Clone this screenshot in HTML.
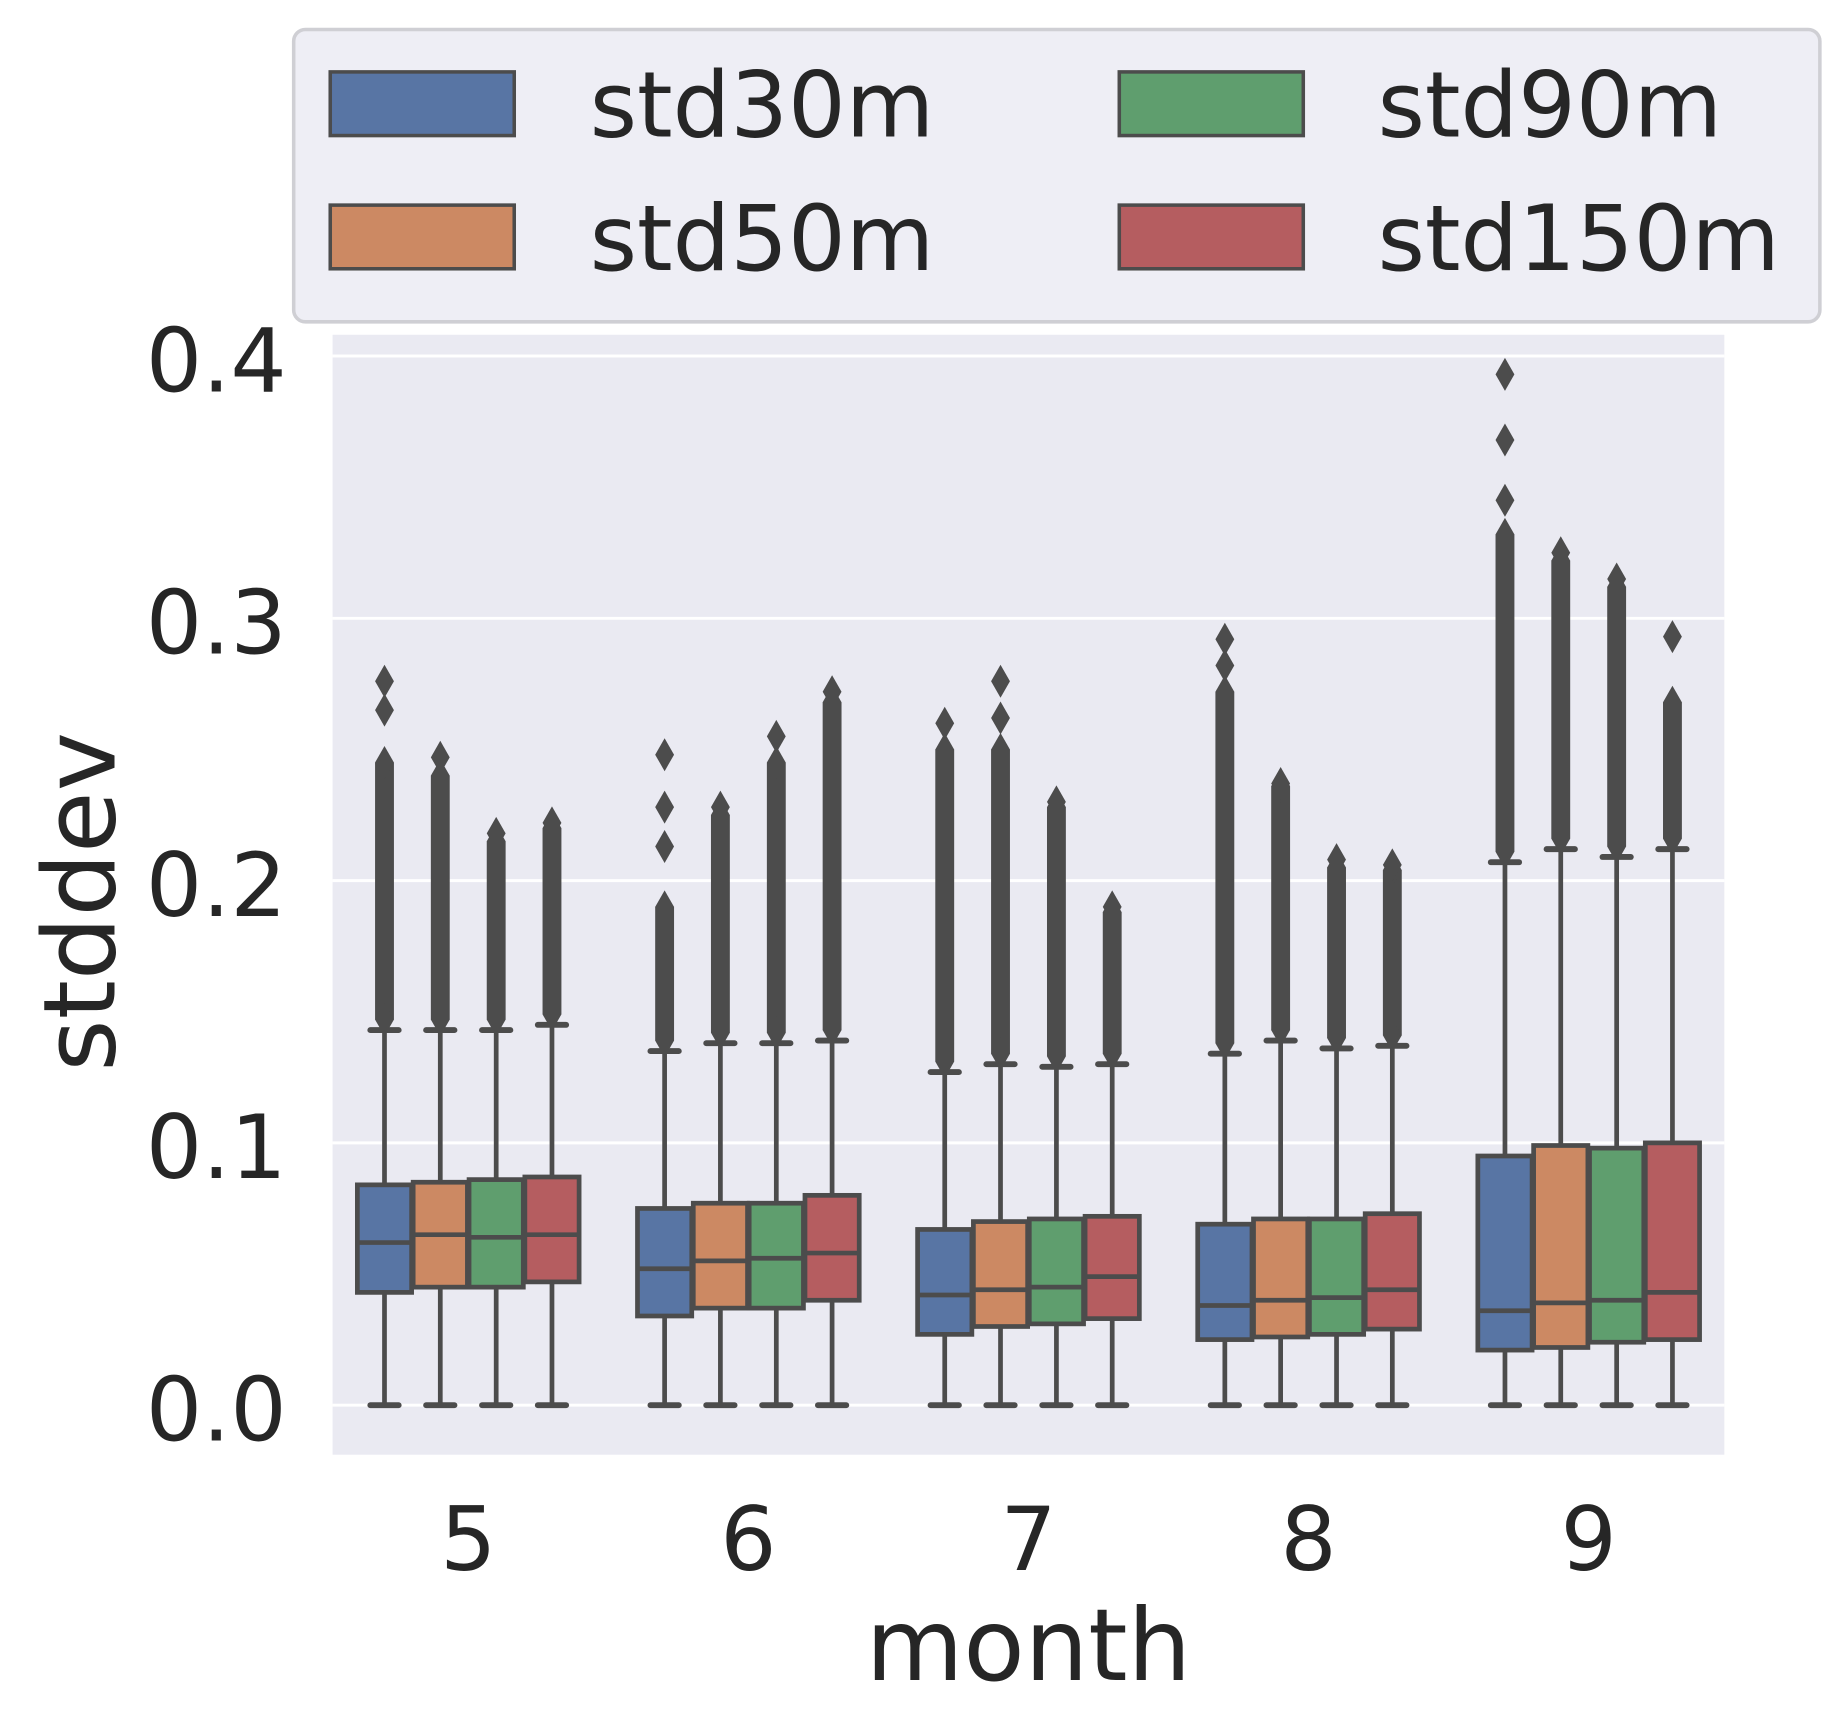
<!DOCTYPE html>
<html><head><meta charset="utf-8"><style>
html,body{margin:0;padding:0;background:#fff;}
svg{display:block;font-family:"DejaVu Sans","Liberation Sans",sans-serif;}
</style></head><body>
<svg id="chart" width="1847" height="1727" viewBox="0 0 1566 1465" preserveAspectRatio="none" xmlns="http://www.w3.org/2000/svg">
<rect x="282" y="284" width="1180" height="950" fill="#eaeaf2"/>
<g id="grid"></g>
<g id="marks"></g>
<g id="yticks" fill="#262626" font-size="75" text-anchor="end"></g>
<g id="xticks" fill="#262626" font-size="75" text-anchor="middle"></g>
<text x="872" y="1425" font-size="85" fill="#262626" text-anchor="middle">month</text>
<text x="0" y="0" font-size="85" fill="#262626" text-anchor="middle" transform="translate(97,765) rotate(-90)">stddev</text>
<g>
<rect x="249" y="25" width="1294" height="248" rx="10" fill="#eaeaf2" fill-opacity="0.8" stroke="#cfcfd4" stroke-width="3"/>
<rect x="280" y="61" width="156" height="54" fill="#5875a4" stroke="#4c4c4c" stroke-width="3"/>
<text x="500" y="116" font-size="77" fill="#262626">std30m</text>
<rect x="280" y="174" width="156" height="54" fill="#cc8963" stroke="#4c4c4c" stroke-width="3"/>
<text x="500" y="229" font-size="77" fill="#262626">std50m</text>
<rect x="949" y="61" width="156" height="54" fill="#5f9e6e" stroke="#4c4c4c" stroke-width="3"/>
<text x="1168" y="116" font-size="77" fill="#262626">std90m</text>
<rect x="949" y="174" width="156" height="54" fill="#b55d60" stroke="#4c4c4c" stroke-width="3"/>
<text x="1168" y="229" font-size="77" fill="#262626">std150m</text>
</g>
</svg>
<script>
const months = ['5','6','7','8','9'];
const series = ['std30m','std50m','std90m','std150m'];
const colors = ['#5875a4','#cc8963','#5f9e6e','#b55d60'];
const yTicks = [0.0,0.1,0.2,0.3,0.4];
const yTickLabels = ['0.0','0.1','0.2','0.3','0.4'];
// per month, per series
const q1 = [[0.043,0.045,0.045,0.047],[0.034,0.037,0.037,0.040],[0.027,0.030,0.031,0.033],[0.025,0.026,0.027,0.029],[0.021,0.022,0.024,0.025]];
const med = [[0.062,0.065,0.064,0.065],[0.052,0.055,0.056,0.058],[0.042,0.044,0.045,0.049],[0.038,0.040,0.041,0.044],[0.036,0.039,0.040,0.043]];
const q3 = [[0.084,0.085,0.086,0.087],[0.075,0.077,0.077,0.080],[0.067,0.070,0.071,0.072],[0.069,0.071,0.071,0.073],[0.095,0.099,0.098,0.100]];
const whiskLo = [[0,0,0,0],[0,0,0,0],[0,0,0,0],[0,0,0,0],[0,0,0,0]];
const whiskHi = [[0.143,0.143,0.143,0.145],[0.135,0.138,0.138,0.139],[0.127,0.130,0.129,0.130],[0.134,0.139,0.136,0.137],[0.207,0.212,0.209,0.212]];
const denseTop = [[0.245,0.240,0.215,0.220],[0.190,0.225,0.245,0.268],[0.250,0.250,0.228,0.188],[0.272,0.236,0.205,0.204],[0.332,0.322,0.312,0.268]];
const outliers = [[[0.265,0.276],[0.247],[0.218],[0.222]],[[0.213,0.228,0.248],[0.228],[0.255],[0.272]],[[0.260],[0.262,0.276],[0.230],[0.190]],[[0.282,0.292],[0.237],[0.208],[0.206]],[[0.345,0.368,0.393],[0.325],[0.315],[0.293]]];

const NS='http://www.w3.org/2000/svg';
const y0=1192, yPer=2225;
function Y(v){return y0 - v*yPer;}
const gx0=397, gStep=237.5, offs=[-71,-23.7,23.7,71], bw=46;
function X(mi,si){return gx0+mi*gStep+offs[si];}
function mk(tag,attrs,parent){const e=document.createElementNS(NS,tag);for(const k in attrs)e.setAttribute(k,attrs[k]);parent.appendChild(e);return e;}
const grid=document.getElementById('grid'), marks=document.getElementById('marks');
const yt=document.getElementById('yticks'), xt=document.getElementById('xticks');
yTicks.forEach((v,i)=>{
  const l=mk('line',{x1:282,x2:1462,y1:Y(v),y2:Y(v),stroke:'#fff','stroke-width':2.5},grid);
  
  
  const t=mk('text',{x:243,y:Y(v)+30},yt);t.textContent=yTickLabels[i];
  
  
});
months.forEach((m,i)=>{
  const t=mk('text',{x:gx0+i*gStep,y:1332},xt);t.textContent=m;
  
  
});
const dk='#4c4c4c';
function diamond(g,x,v){
  const y=Y(v);
  const p=mk('polygon',{points:`${x},${y-14} ${x+8},${y} ${x},${y+14} ${x-8},${y}`,fill:dk},g);
  
  
}
months.forEach((m,mi)=>{
  series.forEach((s,si)=>{
    const x=X(mi,si);
    const g=mk('g',{},marks);
    
    
    mk('line',{x1:x,x2:x,y1:Y(whiskLo[mi][si]),y2:Y(q1[mi][si]),stroke:dk,'stroke-width':4},g);
    mk('line',{x1:x,x2:x,y1:Y(q3[mi][si]),y2:Y(whiskHi[mi][si]),stroke:dk,'stroke-width':4},g);
    mk('line',{x1:x-12,x2:x+12,y1:Y(whiskLo[mi][si]),y2:Y(whiskLo[mi][si]),stroke:dk,'stroke-width':5,'stroke-linecap':'round'},g);
    mk('line',{x1:x-12,x2:x+12,y1:Y(whiskHi[mi][si]),y2:Y(whiskHi[mi][si]),stroke:dk,'stroke-width':5,'stroke-linecap':'round'},g);
    mk('rect',{x:x-bw/2,y:Y(q3[mi][si]),width:bw,height:Y(q1[mi][si])-Y(q3[mi][si]),fill:colors[si],stroke:dk,'stroke-width':4},g);
    mk('line',{x1:x-bw/2,x2:x+bw/2,y1:Y(med[mi][si]),y2:Y(med[mi][si]),stroke:dk,'stroke-width':4},g);
    const lo=whiskHi[mi][si]+0.004, hi=denseTop[mi][si];
    if(hi>lo){
      const r=mk('rect',{x:x-8,y:Y(hi),width:16,height:Y(lo)-Y(hi),fill:dk},g);
      
      
      diamond(g,x,lo);diamond(g,x,hi);
    }
    outliers[mi][si].forEach(v=>diamond(g,x,v));
  });
});
</script>
</body></html>
